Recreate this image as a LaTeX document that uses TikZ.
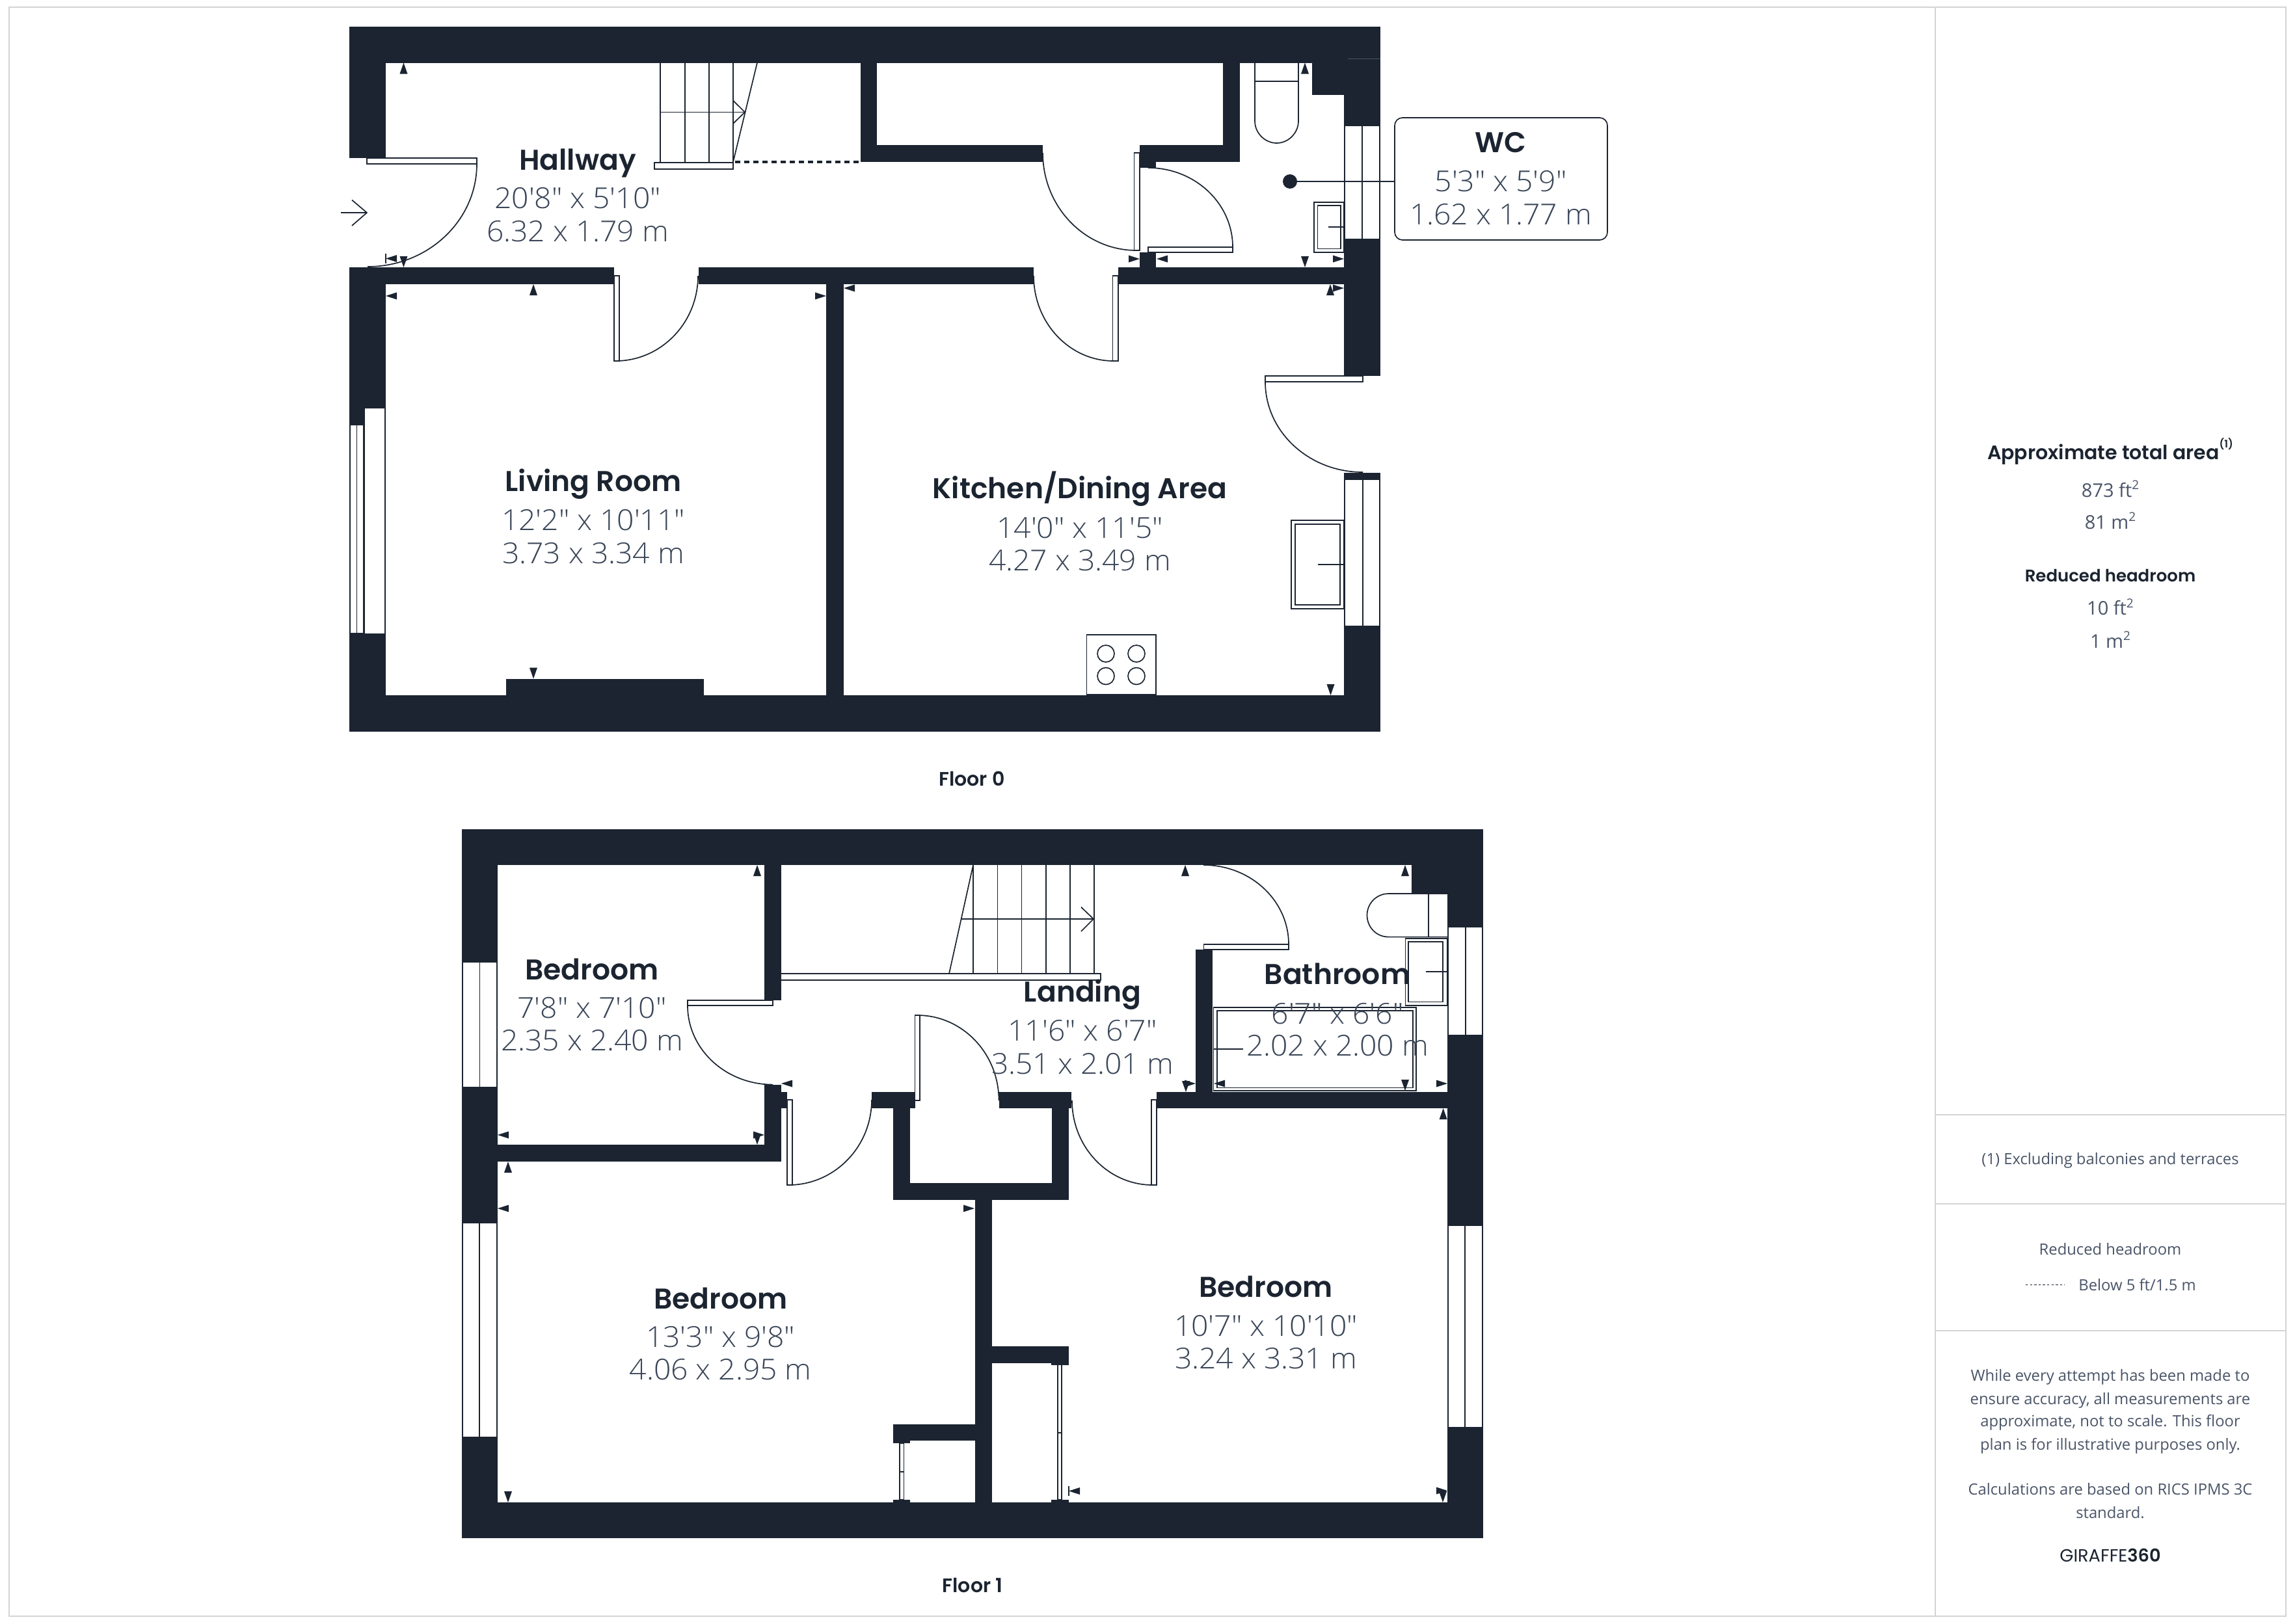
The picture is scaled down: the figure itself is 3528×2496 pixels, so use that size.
\documentclass[tikz,border=0pt]{standalone}
\usepackage{fontspec}
\setmainfont{Open Sans}
\newfontfamily\ttlf{Poppins SemiBold}
\newfontfamily\dimf{Open Sans Light}[FakeStretch=1.04]
\newfontfamily\logof{Poppins}
\definecolor{wallc}{HTML}{1B2430}
\definecolor{grayt}{HTML}{4A5568}
\definecolor{graydim}{HTML}{3A4658}
\definecolor{framec}{HTML}{D4D4D4}
\tikzset{
  wall/.style={fill=wallc},
  fine/.style={draw=wallc,line width=0.85pt},
  leaf/.style={draw=wallc,fill=white,line width=0.85pt},
  mk/.style={fill=wallc},
  ttl/.style={anchor=base,inner sep=0pt,text=wallc,font=\ttlf\fontsize{22}{26}\selectfont},
  dimt/.style={anchor=base,inner sep=0pt,text=graydim,font=\dimf\fontsize{22.2}{26}\selectfont},
  floort/.style={anchor=base,inner sep=0pt,text=wallc,font=\ttlf\fontsize{15}{18}\selectfont},
  sideb/.style={anchor=base,inner sep=0pt,text=wallc,font=\ttlf\fontsize{13}{16}\selectfont},
  sidev/.style={anchor=base,inner sep=0pt,text=grayt,font=\fontsize{14.5}{17}\selectfont},
  sidet/.style={anchor=base,inner sep=0pt,text=grayt,font=\fontsize{11.9}{15}\selectfont},
  frameln/.style={draw=framec,line width=1pt}
}
\newcommand\WallR[4]{\fill[wall] (#1,#2) rectangle (#3,#4);}
\newcommand\Leaf[4]{\filldraw[leaf] (#1,#2) rectangle (#3,#4);}
\newcommand\WinV[5]{\filldraw[leaf] (#1,#2) rectangle (#3,#4); \draw[fine] (#5,#2) -- (#5,#4);}
\newcommand\DArc[4]{\draw[fine] (#1,#2) .. controls (#1,{#2+0.5523*(#4-#2)}) and ({#3+0.5523*(#1-#3)},#4) .. (#3,#4);}
\newcommand\MkU[2]{\fill[mk] (#1,#2) -- ++(-6,17) -- ++(12,0) -- cycle;}
\newcommand\MkD[2]{\fill[mk] (#1,#2) -- ++(-6,-17) -- ++(12,0) -- cycle;}
\newcommand\MkL[2]{\fill[mk] (#1,#2) -- ++(17,-5.5) -- ++(0,11) -- cycle;}
\newcommand\MkR[2]{\fill[mk] (#1,#2) -- ++(-17,-5.5) -- ++(0,11) -- cycle;}
\newcommand\RoomT[8]{%
  \node[ttl] (#1-t) at (#2,#3) {#6};
  \node[dimt] (#1-a) at (#2,#4) {#7};
  \node[dimt] (#1-b) at (#2,#5) {#8};}
\newcommand\SupTwo{\raisebox{0.72ex}{\fontsize{9.5}{9.5}\selectfont 2}}
\begin{document}
\begin{tikzpicture}[x=0.5pt,y=-0.5pt]
\useasboundingbox (0,0) rectangle (3528,2496);
\fill[white] (0,0) rectangle (3528,2496);
% frame
\draw[frameln] (14,11) rectangle (3514,2485);
\draw[frameln] (2975,11) -- (2975,2485);
\draw[frameln] (2975,1714) -- (3514,1714);
\draw[frameln] (2975,1851) -- (3514,1851);
\draw[frameln] (2975,2046) -- (3514,2046);

% ---------- FLOOR 0 walls
\WallR{537}{41}{2122}{96.5}
\WallR{537}{41}{593}{243}
\WallR{537}{411}{593}{1124.6}
\WallR{537}{411}{944}{437}
\WallR{1074}{411}{1589}{437}
\WallR{1719}{411}{2066}{437}
\WallR{2017}{41}{2122}{146}
\WallR{2066}{41}{2122}{193}
\WallR{2066}{368}{2122}{578}
\WallR{2066}{727}{2122}{737}
\WallR{2066}{963}{2122}{1124.6}
\WallR{537}{1069}{2122}{1124.6}
\WallR{1270}{437}{1297}{1069}
\WallR{1323}{96}{1348}{249}
\WallR{1323}{222.5}{1603}{249}
\WallR{1880}{96}{1906}{249}
\WallR{1752}{222.5}{1906}{249}
\WallR{1752}{249}{1777}{258}
\WallR{1752}{388}{1777}{411}
\WallR{778}{1043.6}{1081.6}{1069}
\draw[draw=grayt,line width=0.5pt] (2072,90) -- (2122,90);
% windows
\WinV{2067}{193}{2121}{368}{2094}
\WinV{2067}{737}{2121}{963}{2095}
\filldraw[leaf] (538,653) rectangle (558.5,973.6); \draw[fine] (548.5,653) -- (548.5,973.6);
\filldraw[leaf] (560,627) rectangle (592,975);
% doors
\Leaf{564}{243}{733}{252}
\DArc{733}{252}{565}{410}
\Leaf{944}{424}{952}{555}
\DArc{1073}{424}{946}{555}
\Leaf{1710.5}{424}{1719}{555}
\DArc{1589}{424}{1712}{555}
\Leaf{1743.6}{235}{1752}{385}
\DArc{1603}{235}{1747}{385}
\Leaf{1765}{380}{1895}{388}
\DArc{1895}{380}{1765}{258}
\Leaf{1945}{578}{2095}{587}
\DArc{1945}{587}{2095}{726}
% stairs
\draw[fine] (1015,96.5) -- (1015,249) (1053,96.5) -- (1053,249) (1090,96.5) -- (1090,249) (1127,96.5) -- (1127,249);
\draw[fine] (1164,96.5) -- (1127,249);
\draw[fine] (1015,172.5) -- (1145,172.5);
\draw[fine] (1127,154.6) -- (1145,172.5) -- (1127,190);
\Leaf{1006}{250}{1127}{260}
\draw[draw=wallc,line width=1.6pt,dash pattern=on 4pt off 3pt] (1130,249) -- (1323,249);
% entry arrow
\draw[fine] (524,327) -- (564,327);
\draw[fine] (541,307.5) -- (564,327) -- (541,347);
% fixtures
\draw[fine] (1929,96.5) -- (1929,186) .. controls (1929,205) and (1945,220) .. (1962.5,220) .. controls (1980,220) and (1996,205) .. (1996,186) -- (1996,96.5);
\draw[fine] (1929,125) -- (1996,125);
\draw[fine] (2020,311) rectangle (2066,388);
\draw[fine] (2025.5,316) rectangle (2061,382.5);
\draw[fine] (2042,349) -- (2066,349);
\draw[fine] (1985,800) rectangle (2066,936);
\draw[fine] (1991,806) rectangle (2060,930);
\draw[fine] (2026,868) -- (2066,868);
\draw[fine] (1670.5,976) rectangle (1777,1068);
\draw[fine] (1700,1005) circle (13);
\draw[fine] (1747,1005) circle (13);
\draw[fine] (1700,1039.5) circle (13);
\draw[fine] (1747,1039.5) circle (13);
% markers
\MkU{620.5}{96.5} \MkD{620.5}{411} \MkL{593}{397.5} \MkL{593}{455} \MkU{820}{437}
\MkR{1270}{455} \MkL{1297}{443} \MkU{2006}{96.5} \MkR{1752}{398} \MkL{1778}{398}
\MkD{2006}{411} \MkR{2066}{398} \MkR{2066}{443} \MkU{2045}{437} \MkD{2045.5}{1069}
\MkD{820}{1043.6}
\draw[fine] (593,390) -- (593,405);

% ---------- FLOOR 1 walls
\WallR{710}{1274.5}{2280}{1330}
\WallR{710}{1274.5}{765}{2365}
\WallR{710}{2310}{2280}{2365}
\WallR{2170}{1274.5}{2280}{1374}
\WallR{2225}{1274.5}{2280}{1425}
\WallR{2225}{1592}{2280}{1884}
\WallR{2225}{2195}{2280}{2365}
\WallR{1175}{1330}{1200.6}{1538}
\WallR{1175}{1667.6}{1200.6}{1786}
\WallR{1175}{1679}{1210}{1691}
\WallR{1200}{1679}{1210}{1704}
\WallR{765}{1760}{1200.6}{1786}
\WallR{1340}{1679}{1406.6}{1704}
\WallR{1535.5}{1679}{1647}{1704}
\WallR{1373}{1704}{1399}{1845}
\WallR{1616.5}{1704}{1642.6}{1845}
\WallR{1373}{1819}{1642.6}{1845}
\WallR{1778}{1679}{2225}{1704}
\WallR{1838}{1460}{1864}{1679}
\WallR{1499}{1845}{1525}{2310}
\WallR{1373}{2190}{1499}{2215}
\WallR{1373}{2215}{1399}{2219}
\WallR{1525}{2070}{1642.5}{2096}
\WallR{1616}{2096}{1642.5}{2098.5}
\WallR{1373}{2306}{1399}{2310}
\WallR{1616}{2306}{1642.5}{2310}
% windows
\WinV{711}{1479}{764}{1672}{737.6}
\WinV{711}{1880}{764}{2210}{737}
\WinV{2226}{1425}{2279}{1592}{2253}
\WinV{2226}{1884}{2279}{2195}{2252}
% doors
\Leaf{1057}{1538}{1188}{1546}
\DArc{1057}{1546}{1188}{1667.6}
\Leaf{1210}{1691}{1218}{1822}
\DArc{1340}{1691}{1212}{1822}
\Leaf{1406.6}{1561}{1414}{1692}
\DArc{1535.5}{1692}{1410}{1561}
\Leaf{1770}{1691}{1778}{1822}
\DArc{1648}{1692}{1772}{1822}
\Leaf{1850.6}{1452}{1981}{1460}
\DArc{1981}{1452}{1850}{1330}
% sliding doors
\Leaf{1383}{2219}{1389.5}{2306}
\draw[fine] (1383,2263) -- (1389.5,2263);
\Leaf{1626}{2098}{1632}{2306}
\draw[fine] (1626,2203) -- (1632,2203);
% stairs
\foreach \sx in {1496,1533.5,1570.5,1608,1645,1682} {\draw[fine] (\sx,1330) -- (\sx,1497);}
\draw[fine] (1496,1330) -- (1459,1497);
\draw[fine] (1478,1413) -- (1681,1413);
\draw[fine] (1662,1394.7) -- (1681,1413) -- (1662,1432);
\Leaf{1200}{1497}{1692}{1507}
% bathroom fixtures
\draw[fine] (2225,1374) -- (2135,1374) .. controls (2115,1374) and (2101.5,1390) .. (2101.5,1407) .. controls (2101.5,1425) and (2115,1440.6) .. (2135,1440.6) -- (2225,1440.6);
\draw[fine] (2196,1374) -- (2196,1440.6);
\draw[fine] (2160.6,1443) rectangle (2225,1546);
\draw[fine] (2165,1448) rectangle (2218,1540.5);
\draw[fine] (2192,1494) -- (2225,1494);
\draw[fine] (1865.5,1549) rectangle (2176.7,1677);
\draw[fine] (1871,1554) rectangle (2172,1672.5);
\draw[fine] (1865,1613) -- (1911,1613);
% markers
\MkU{1164}{1330} \MkL{1201}{1666} \MkL{765}{1745} \MkR{1175}{1745} \MkD{1164}{1760}
\MkU{781}{1786} \MkL{765}{1858} \MkR{1498}{1858} \MkD{781}{2310}
\MkU{1822}{1330} \MkU{2160}{1330} \MkR{1838}{1666} \MkD{1823}{1679} \MkL{1866}{1666}
\MkD{2160}{1677} \MkR{2225}{1666} \MkU{2218.6}{1704}
\MkL{1643}{2292.5} \MkR{2225}{2292} \MkD{2218}{2310}
\draw[fine] (1643,2285) -- (1643,2300);

% ---------- room labels
\RoomT{hall}{888}{261}{320}{371}{Hallway}{20'8" x 5'10"}{6.32 x 1.79 m}
\RoomT{living}{912}{755}{815}{866}{Living Room}{12'2" x 10'11"}{3.73 x 3.34 m}
\RoomT{kitchen}{1660}{766}{827}{877}{Kitchen/Dining Area}{14'0" x 11'5"}{4.27 x 3.49 m}
\RoomT{bedA}{910}{1506}{1565}{1615}{Bedroom}{7'8" x 7'10"}{2.35 x 2.40 m}
\RoomT{landing}{1664}{1540.5}{1600.6}{1651}{Landing}{11'6" x 6'7"}{3.51 x 2.01 m}
\RoomT{bath}{2056}{1513}{1574}{1623.6}{Bathroom}{6'7" x 6'6"}{2.02 x 2.00 m}
\RoomT{bedB}{1107.7}{2012}{2071.4}{2121}{Bedroom}{13'3" x 9'8"}{4.06 x 2.95 m}
\RoomT{bedC}{1946}{1994}{2054.5}{2104}{Bedroom}{10'7" x 10'10"}{3.24 x 3.31 m}
% WC callout
\node[draw=wallc,fill=white,line width=0.85pt,rounded corners=6pt,minimum width=163.5pt,minimum height=94pt,inner sep=0pt] (wcbox) at (2307.5,275) {};
\node[circle,fill=wallc,inner sep=0pt,minimum size=11pt] (wcdot) at (1983,279) {};
\draw[fine] (wcdot) -- (wcdot -| wcbox.west);
\RoomT{wc}{2307}{234}{294}{345}{WC}{5'3" x 5'9"}{1.62 x 1.77 m}
% floors
\node[floort] (f0) at (1494,1208) {Floor 0};
\node[floort] (f1) at (1495,2448) {Floor 1};
% side panel
\node[sideb,font=\ttlf\fontsize{15}{18}\selectfont] (ata) at (3244,706) {Approximate total area\raisebox{1.05ex}{\fontsize{8}{8}\selectfont(1)}};
\node[sidev] (a1) at (3244,764) {873 ft\SupTwo};
\node[sidev] (a2) at (3244,813) {81 m\SupTwo};
\node[sideb] (rh) at (3244,894) {Reduced headroom};
\node[sidev] (r1) at (3244,945.6) {10 ft\SupTwo};
\node[sidev] (r2) at (3244,996) {1 m\SupTwo};
\node[sidet] (fn) at (3244,1790) {(1) Excluding balconies and terraces};
\node[sidet] (rt) at (3244,1929) {Reduced headroom};
\coordinate (dotA) at (3114,1975.6);
\coordinate (dotB) at (3174,1975.6);
\draw[draw=wallc,line width=0.7pt,dash pattern=on 1.7pt off 1.6pt] (dotA) -- (dotB);
\node[sidet,anchor=base west] (rb) at (3195,1984) {Below 5 ft/1.5 m};
\node[sidet] (p1) at (3244,2123) {While every attempt has been made to};
\node[sidet] (p2) at (3244,2159) {ensure accuracy, all measurements are};
\node[sidet] (p3) at (3244,2193) {approximate, not to scale. This floor};
\node[sidet] (p4) at (3244,2229) {plan is for illustrative purposes only.};
\node[sidet] (p5) at (3244,2298) {Calculations are based on RICS IPMS 3C};
\node[sidet] (p6) at (3244,2334) {standard.};
\node[anchor=base,inner sep=0pt,text=wallc,font=\logof\fontsize{13.6}{15}\selectfont] (logo) at (3244,2401.5) {GIRAFFE{\ttlf 360}};
\end{tikzpicture}
\end{document}
